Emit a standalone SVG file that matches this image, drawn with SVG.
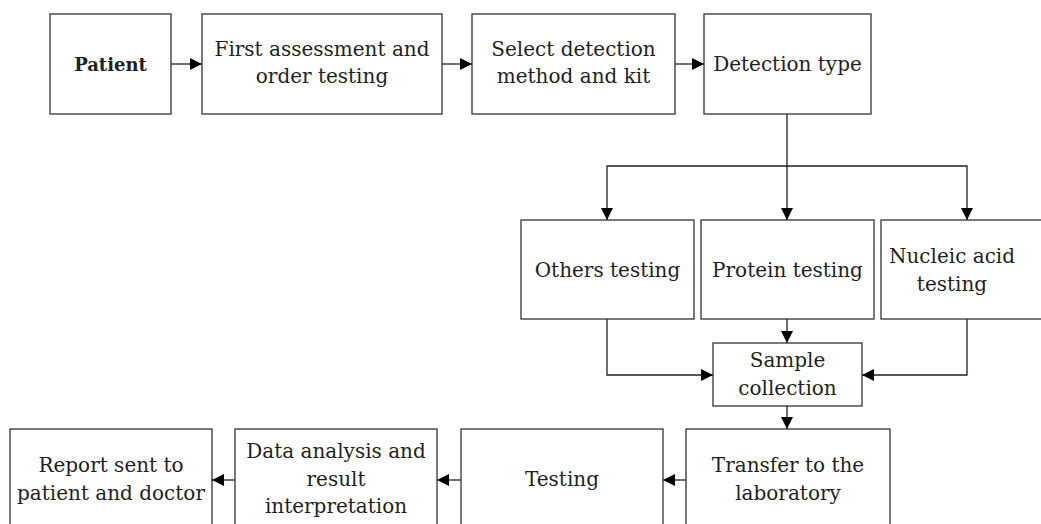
<svg xmlns="http://www.w3.org/2000/svg" width="1041" height="524" viewBox="0 0 1041 524">
<style>
.box{fill:#fff;stroke:#333;stroke-width:1.3}
.t{font-family:"DejaVu Serif","Liberation Serif",serif;font-size:20px;fill:#231f20;text-anchor:middle}
.b{font-weight:bold;font-size:18px}
.c{fill:none;stroke:#231f20;stroke-width:1.3;marker-end:url(#ah)}
</style>
<defs>
<marker id="ah" markerUnits="userSpaceOnUse" markerWidth="12" markerHeight="12" refX="12" refY="6" orient="auto">
<path d="M0,0 L12,6 L0,12 z" fill="#000"/>
</marker>
</defs>
<rect width="1041" height="524" fill="#fff"/>
<g id="connectors">
<path class="c" d="M171,64 H202"/>
<path class="c" d="M442,64 H472"/>
<path class="c" d="M675,64 H704"/>
<path class="c" d="M787,114 V220"/>
<path class="c" d="M787,166 H607 V220"/>
<path class="c" d="M787,166 H967 V220"/>
<path class="c" d="M607,319 V375 H713"/>
<path class="c" d="M787,319 V343"/>
<path class="c" d="M967,319 V375 H862"/>
<path class="c" d="M787,406 V429"/>
<path class="c" d="M686,480 H663"/>
<path class="c" d="M461,480 H437"/>
<path class="c" d="M235,480 H212"/>
</g>
<g id="patient"><rect class="box" x="50" y="14" width="121" height="100"/><text class="t b" x="110.5" y="71">Patient</text></g>
<g id="first"><rect class="box" x="202" y="14" width="240" height="100"/><text class="t" x="322" y="56">First assessment and</text><text class="t" x="322" y="83">order testing</text></g>
<g id="select"><rect class="box" x="472" y="14" width="203" height="100"/><text class="t" x="573.5" y="56">Select detection</text><text class="t" x="573.5" y="83">method and kit</text></g>
<g id="detection"><rect class="box" x="704" y="14" width="167" height="100"/><text class="t" x="787.5" y="71">Detection type</text></g>
<g id="others"><rect class="box" x="521" y="220" width="173" height="99"/><text class="t" x="607.5" y="277">Others testing</text></g>
<g id="protein"><rect class="box" x="701" y="220" width="173" height="99"/><text class="t" x="787.5" y="277">Protein testing</text></g>
<g id="nucleic"><rect class="box" x="881" y="220" width="175" height="99"/><text class="t" x="952" y="263">Nucleic acid</text><text class="t" x="952" y="291">testing</text></g>
<g id="sample"><rect class="box" x="713" y="343" width="149" height="63"/><text class="t" x="787.5" y="367">Sample</text><text class="t" x="787.5" y="395">collection</text></g>
<g id="transfer"><rect class="box" x="686" y="429" width="204" height="100"/><text class="t" x="788" y="472">Transfer to the</text><text class="t" x="788" y="500">laboratory</text></g>
<g id="testing"><rect class="box" x="461" y="429" width="202" height="100"/><text class="t" x="562" y="486">Testing</text></g>
<g id="data"><rect class="box" x="235" y="429" width="202" height="100"/><text class="t" x="336" y="458">Data analysis and</text><text class="t" x="336" y="486">result</text><text class="t" x="336" y="513">interpretation</text></g>
<g id="report"><rect class="box" x="10" y="429" width="202" height="100"/><text class="t" x="111" y="472">Report sent to</text><text class="t" x="111" y="500">patient and doctor</text></g>
</svg>
